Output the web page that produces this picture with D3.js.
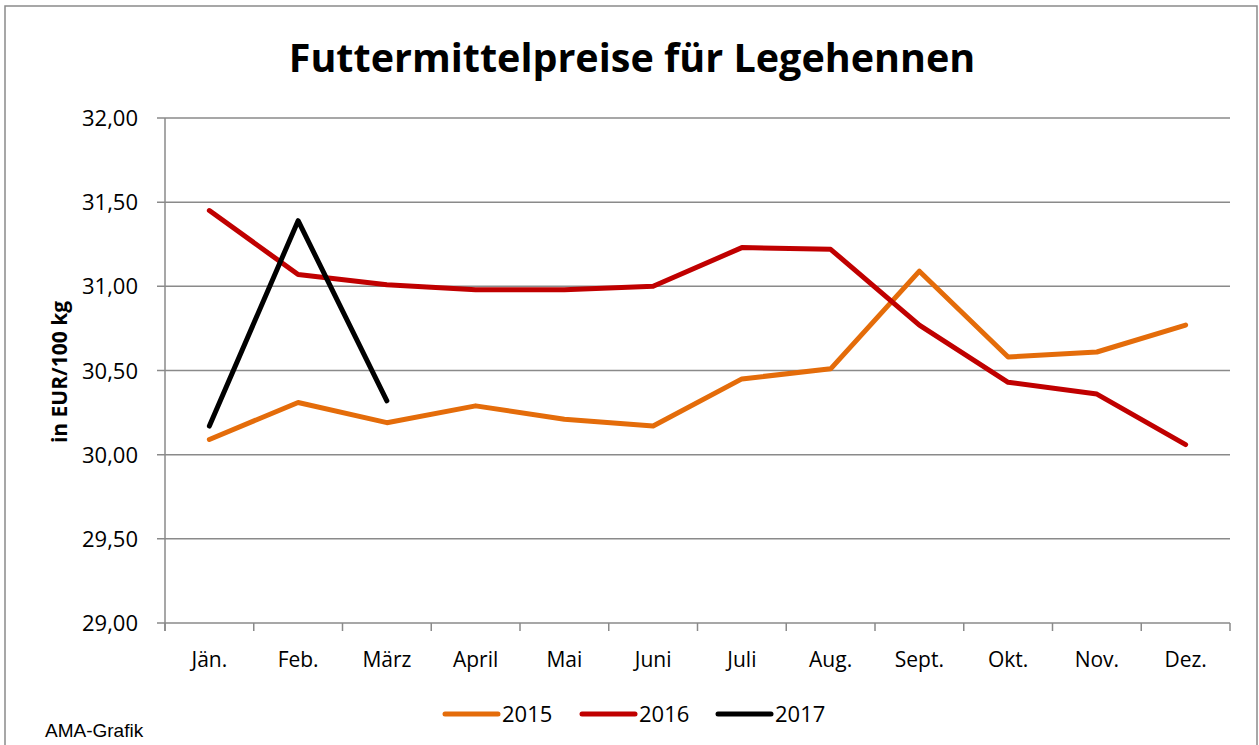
<html>
<head>
<meta charset="UTF-8">
<script src="https://cdnjs.cloudflare.com/ajax/libs/d3/7.8.5/d3.min.js"></script>
<style>
  body { margin: 0; background: #fff; }
  text { font-family: "Open Sans", "Noto Sans", sans-serif; fill: #000; }
  text.note { font-family: "Liberation Sans", Arial, sans-serif; }
</style>
</head>
<body>
<script>
var months = ["Jän.", "Feb.", "März", "April", "Mai", "Juni", "Juli", "Aug.", "Sept.", "Okt.", "Nov.", "Dez."];
var years = ["2015", "2016", "2017"];
var v2015 = [30.09, 30.31, 30.19, 30.29, 30.21, 30.17, 30.45, 30.51, 31.09, 30.58, 30.61, 30.77];
var v2016 = [31.45, 31.07, 31.01, 30.98, 30.98, 31.00, 31.23, 31.22, 30.77, 30.43, 30.36, 30.06];
var v2017 = [30.17, 31.39, 30.32];
var yTicks = [29, 29.5, 30, 30.5, 31, 31.5, 32];
var colors = ["#e46c0a", "#c00000", "#000000"];

var series = [v2015, v2016, v2017];

var width = 1259, height = 745;
var margin = {left: 165, right: 29, top: 118, bottom: 122};
var w = width - margin.left - margin.right;
var h = height - margin.top - margin.bottom;

var svg = d3.select("body").append("svg")
    .attr("width", width)
    .attr("height", height);

// outer frame
svg.append("rect")
    .attr("x", 5).attr("y", 6)
    .attr("width", 1252).attr("height", 750)
    .attr("fill", "none")
    .attr("stroke", "#8a8a8a")
    .attr("stroke-width", 1.5);

svg.append("text")
    .attr("x", 632).attr("y", 72)
    .attr("text-anchor", "middle")
    .attr("font-size", 39.5)
    .attr("font-weight", "bold")
    .text("Futtermittelpreise für Legehennen");

var g = svg.append("g")
    .attr("transform", "translate(" + margin.left + "," + margin.top + ")");

var x = d3.scaleBand().domain(months).range([0, w]).padding(0);
var y = d3.scaleLinear().domain([29, 32]).range([h, 0]);

var fmt = function (d) { return d3.format(".2f")(d).replace(".", ","); };

// grid
g.selectAll(".grid")
    .data(yTicks)
    .enter().append("line")
    .attr("x1", -8).attr("x2", w)
    .attr("y1", function (d) { return y(d); })
    .attr("y2", function (d) { return y(d); })
    .attr("stroke", "#8a8a8a")
    .attr("stroke-width", 1.5);

// y axis line
g.append("line")
    .attr("x1", 0).attr("x2", 0)
    .attr("y1", 0).attr("y2", h + 8)
    .attr("stroke", "#8a8a8a")
    .attr("stroke-width", 1.5);

g.selectAll(".ylab")
    .data(yTicks)
    .enter().append("text")
    .attr("x", -27)
    .attr("y", function (d) { return y(d) + 8; })
    .attr("text-anchor", "end")
    .attr("font-size", 22)
    .text(fmt);

// x ticks at band edges
var edges = months.map(function (m) { return x(m); }).concat([w]);
g.selectAll(".xtick")
    .data(edges)
    .enter().append("line")
    .attr("x1", function (d) { return d; })
    .attr("x2", function (d) { return d; })
    .attr("y1", h).attr("y2", h + 8)
    .attr("stroke", "#8a8a8a")
    .attr("stroke-width", 1.5);

g.selectAll(".xlab")
    .data(months)
    .enter().append("text")
    .attr("x", function (d) { return x(d) + x.bandwidth() / 2; })
    .attr("y", h + 44)
    .attr("text-anchor", "middle")
    .attr("font-size", 21)
    .text(function (d) { return d; });

var line = d3.line()
    .x(function (d, i) { return x(months[i]) + x.bandwidth() / 2; })
    .y(function (d) { return y(d); });

series.forEach(function (s, k) {
    g.append("path")
        .datum(s)
        .attr("d", line)
        .attr("fill", "none")
        .attr("stroke", colors[k])
        .attr("stroke-width", 5)
        .attr("stroke-linejoin", "round")
        .attr("stroke-linecap", "round");
});

// y title
svg.append("text")
    .attr("transform", "translate(67,372) rotate(-90)")
    .attr("text-anchor", "middle")
    .attr("font-size", 21)
    .attr("font-weight", "bold")
    .text("in EUR/100 kg");

// legend
var legX = [445, 582, 718];
var leg = svg.selectAll(".leg")
    .data(years)
    .enter().append("g")
    .attr("transform", function (d, i) { return "translate(" + legX[i] + ",714)"; });
leg.append("line")
    .attr("x1", 0).attr("x2", 53)
    .attr("stroke", function (d, i) { return colors[i]; })
    .attr("stroke-width", 5)
    .attr("stroke-linecap", "round");
leg.append("text")
    .attr("x", 57).attr("y", 8)
    .attr("font-size", 22)
    .text(function (d) { return d; });

svg.append("text")
    .attr("class", "note")
    .attr("x", 45).attr("y", 737)
    .attr("font-size", 19)
    .text("AMA-Grafik");
</script>
</body>
</html>
